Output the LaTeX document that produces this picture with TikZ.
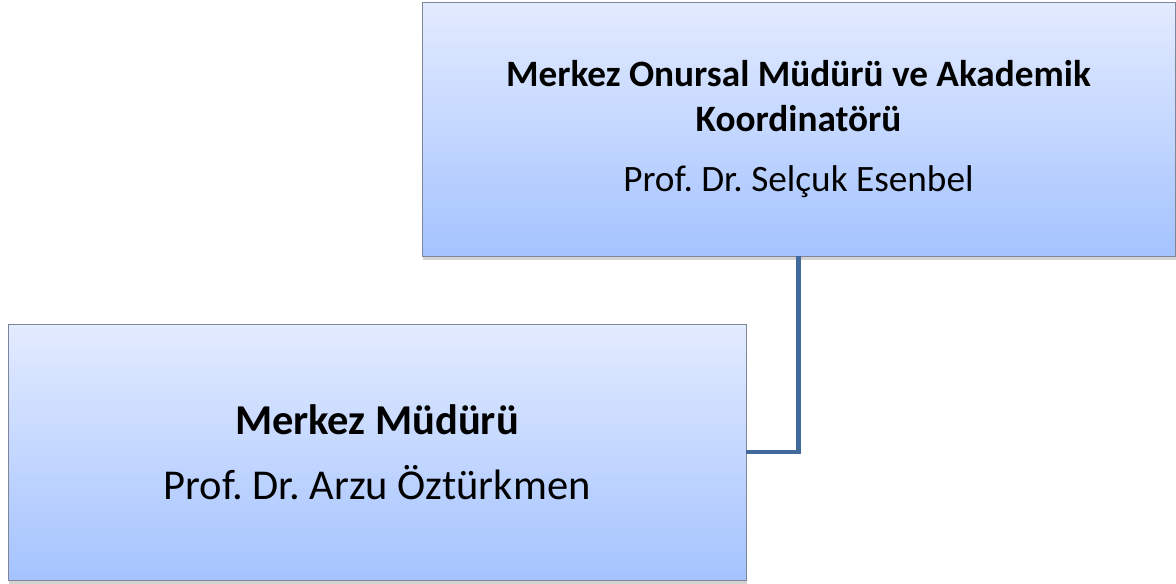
\documentclass[tikz,border=0pt]{standalone}
\usepackage{fontspec}
\setmainfont{Carlito}
\usetikzlibrary{positioning, calc, shadows}
\usepackage{xcolor}
\frenchspacing

\begin{document}
\begin{tikzpicture}[
    x=0.02cm, y=-0.02cm,
    font=\fontsize{21.2}{26}\selectfont
]

\definecolor{colortop}{HTML}{E3EBFF}
\definecolor{colorbot}{HTML}{A4C3FF}
\definecolor{borderbox}{HTML}{7F8697}
\definecolor{colorline}{HTML}{41699C}

\tikzset{
    unitbox/.style={
        rectangle,
        thin,
        draw=borderbox,
        top color=colortop,
        bottom color=colorbot,
        drop shadow={shadow xshift=0.6pt, shadow yshift=-2.5pt, opacity=0.35},
        text=black,
        align=center,
        inner sep=0pt
    },
    link/.style={
        line width=2.7pt,
        draw=colorline
    }
}

\useasboundingbox (0,0) rectangle (1176,583);

% Nodes
\node[unitbox, minimum width=15.06cm, minimum height=5.08cm] (onursal) at (798.5,129)
    {\textbf{Merkez Onursal Müdürü ve Akademik}\\\textbf{Koordinatörü}\\[8pt]Prof. Dr. Selçuk Esenbel};
\node[unitbox, minimum width=14.76cm, minimum height=5.12cm,
    font=\fontsize{24.2}{30}\selectfont] (mudur) at (377,452)
    {\textbf{Merkez Müdürü}\\[7pt]Prof. Dr. Arzu Öztürkmen};

% Edge between the two boxes
\draw[link] (onursal.south) |- (mudur.east);

\end{tikzpicture}
\end{document}
